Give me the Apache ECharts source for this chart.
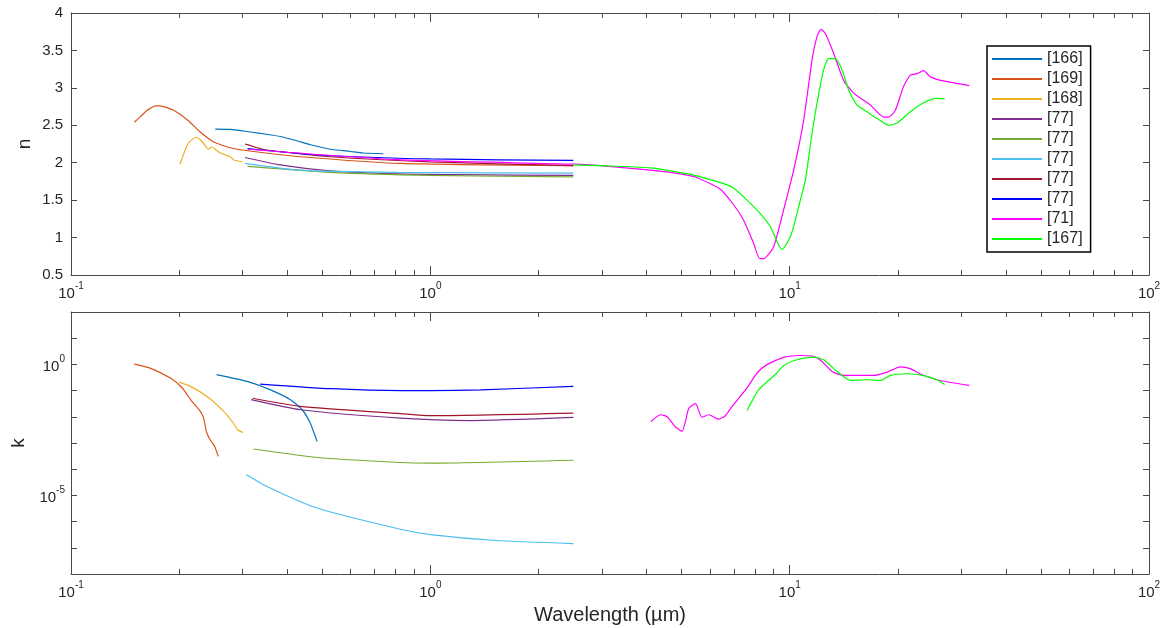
<!DOCTYPE html>
<html>
<head>
<meta charset="utf-8">
<script src="https://cdn.jsdelivr.net/npm/echarts@6/dist/echarts.min.js"></script>
<style>
html,body{margin:0;padding:0;background:#fff;}
#chart{width:1169px;height:628px;}
</style>
</head>
<body>
<div id="chart"></div>
<script>
// ---------- DATA: [wavelength (µm), value] ----------
const legendNames = ['[166]', '[169]', '[168]', '[77]#a', '[77]#b', '[77]#c', '[77]#d', '[77]#e', '[71]', '[167]'];
const seriesColors = ['#0072BD', '#D95319', '#EDB120', '#7E2F8E', '#77AC30', '#4DBEEE', '#A2142F', '#0000FF', '#FF00FF', '#00FF00'];

// refractive index n (top panel)
const n166 = [[0.252,2.45],[0.278,2.445],[0.316,2.41],[0.35,2.38],[0.382,2.35],[0.42,2.30],[0.464,2.24],[0.527,2.18],[0.6,2.15],[0.651,2.13],[0.74,2.12]];
const n169 = [[0.150,2.54],[0.156,2.615],[0.163,2.70],[0.172,2.76],[0.177,2.76],[0.193,2.70],[0.211,2.57],[0.229,2.41],[0.249,2.28],[0.283,2.19],[0.322,2.15],[0.435,2.08],[0.826,1.99],[2.5,1.96]];
const n168 = [[0.201,1.98],[0.212,2.26],[0.223,2.34],[0.232,2.28],[0.241,2.18],[0.246,2.21],[0.260,2.13],[0.278,2.08],[0.283,2.04],[0.300,2.01]];
const n77a = [[0.305,2.07],[0.382,1.97],[0.527,1.89],[0.81,1.85],[1.2,1.84],[2.5,1.83]];
const n77b = [[0.31,1.95],[0.527,1.87],[1.0,1.83],[2.5,1.81]];
const n77c = [[0.305,1.99],[0.43,1.90],[0.81,1.87],[2.5,1.86]];
const n77d = [[0.305,2.25],[0.32,2.22],[0.33,2.20],[0.35,2.17],[0.527,2.08],[1.0,2.01],[2.5,1.96]];
const n77e = [[0.31,2.19],[0.5,2.10],[1.0,2.05],[2.5,2.03]];
const n71 = [[0.31,2.18],[0.81,2.04],[2.5,1.98],[2.97,1.96],[4.10,1.90],[4.96,1.85],[5.53,1.80],[6.41,1.645],[6.99,1.435],[7.44,1.235],[7.94,0.92],[8.25,0.72],[8.47,0.72],[9.03,0.88],[9.62,1.37],[10.26,1.90],[10.94,2.57],[11.54,3.37],[11.91,3.68],[12.22,3.78],[12.56,3.73],[13.26,3.46],[14.13,3.10],[15.07,2.93],[16.77,2.77],[18.27,2.61],[18.86,2.61],[19.68,2.70],[20.75,3.02],[21.67,3.17],[22.62,3.19],[23.6,3.23],[24.6,3.15],[26.3,3.10],[29.2,3.06],[31.6,3.03]];
const n167 = [[2.5,1.97],[2.97,1.96],[4.10,1.93],[5.07,1.86],[5.64,1.81],[6.55,1.72],[6.99,1.66],[7.61,1.50],[8.28,1.32],[8.84,1.145],[9.22,0.945],[9.52,0.84],[10.04,1.01],[10.37,1.235],[10.71,1.50],[11.06,1.77],[11.54,2.39],[11.91,2.79],[12.43,3.24],[12.84,3.39],[13.40,3.39],[13.99,3.24],[14.60,2.97],[15.4,2.77],[16.42,2.68],[17.51,2.59],[18.86,2.50],[19.90,2.53],[21.67,2.68],[23.6,2.80],[25.44,2.86],[27.0,2.855]];

// extinction coefficient k (bottom panel)
const k166 = [[0.254,0.41],[0.309,0.224],[0.359,0.107],[0.408,0.045],[0.44,0.0186],[0.463,0.0058],[0.484,0.00115]];
const k169 = [[0.150,1.02],[0.166,0.72],[0.189,0.30],[0.204,0.126],[0.217,0.039],[0.229,0.0162],[0.234,0.0089],[0.238,0.00275],[0.243,0.00145],[0.251,0.00074],[0.257,0.00031]];
const k168 = [[0.200,0.21],[0.215,0.145],[0.239,0.060],[0.266,0.0162],[0.283,0.0058],[0.291,0.0032],[0.301,0.0025]];
const k77a = [[0.317,0.045],[0.435,0.0186],[0.826,0.0089],[1.29,0.0072],[2.5,0.0095]];
const k77b = [[0.322,5.9e-4],[0.484,2.8e-4],[0.826,1.8e-4],[1.0,1.7e-4],[2.5,2.2e-4]];
const k77c = [[0.308,6.2e-5],[0.351,2.2e-5],[0.484,3.3e-6],[0.826,5.1e-7],[1.0,3.2e-7],[1.53,1.9e-7],[2.5,1.45e-7]];
const k77d = [[0.320,0.051],[0.435,0.025],[0.826,0.0132],[1.0,0.011],[2.5,0.0138]];
const k77e = [[0.336,0.178],[0.53,0.118],[0.83,0.10],[1.0,0.10],[1.38,0.107],[2.5,0.145]];
const k71 = [[4.11,0.0066],[4.37,0.012],[4.56,0.010],[4.81,0.0041],[5.02,0.0028],[5.24,0.021],[5.47,0.032],[5.70,0.0095],[5.95,0.012],[6.35,0.0081],[6.62,0.011],[6.92,0.025],[7.61,0.126],[8.11,0.47],[8.65,0.98],[9.62,1.86],[10.71,2.19],[11.66,2.04],[12.3,1.29],[13.12,0.54],[14.13,0.38],[17.14,0.38],[18.67,0.51],[20.32,0.81],[21.67,0.69],[23.1,0.43],[25.7,0.26],[31.6,0.158]];
const k167 = [[7.61,0.0174],[8.2,0.107],[9.12,0.41],[9.62,0.91],[10.48,1.51],[11.66,1.91],[12.43,1.51],[13.55,0.54],[14.75,0.245],[16.42,0.26],[17.88,0.245],[19.06,0.38],[21.2,0.44],[23.6,0.37],[25.7,0.26],[27.0,0.17]];

const nData = [n166, n169, n168, n77a, n77b, n77c, n77d, n77e, n71, n167];
const kData = [k166, k169, k168, k77a, k77b, k77c, k77d, k77e, k71, k167];

// ---------- CHART ----------
const FONT = 'Liberation Sans, Arial, Helvetica, sans-serif';
const AXC = '#4a4a4a';
const TXT = '#262626';
const powRich = {
  b: {fontSize: 15, fontFamily: FONT, color: TXT, lineHeight: 20, verticalAlign: 'bottom'},
  s: {fontSize: 10, fontFamily: FONT, color: TXT, lineHeight: 20, verticalAlign: 'top'}
};
function powLabel(v) {
  const e = Math.round(Math.log10(v));
  return '{b|10}{s|' + e + '}';
}

function xAxis(grid, pos, labels, name) {
  return {
    type: 'log', logBase: 10, gridIndex: grid, position: pos,
    min: 0.1, max: 100, interval: 1,
    axisLine: {show: true, onZero: false, lineStyle: {color: AXC, width: 1}},
    axisTick: {show: true, inside: true, length: 9, lineStyle: {color: AXC}},
    minorTick: {show: true, splitNumber: 9, length: 5, lineStyle: {color: AXC}},
    splitLine: {show: false}, minorSplitLine: {show: false},
    axisLabel: {show: labels, margin: 6, formatter: powLabel, rich: powRich},
    name: name || '', nameLocation: 'middle', nameGap: 31,
    nameTextStyle: {fontSize: 20, fontFamily: FONT, color: TXT}
  };
}

const option = {
  animation: false,
  backgroundColor: '#fff',
  grid: [
    {left: 71, top: 13, width: 1078, height: 262},
    {left: 71, top: 312, width: 1078, height: 262}
  ],
  xAxis: [
    xAxis(0, 'bottom', true),
    xAxis(0, 'top', false),
    xAxis(1, 'bottom', true, 'Wavelength (\u00b5m)'),
    xAxis(1, 'top', false)
  ],
  yAxis: [
    {type: 'value', gridIndex: 0, position: 'left', min: 0.5, max: 4, interval: 0.5,
     axisLine: {show: true, lineStyle: {color: AXC}},
     axisTick: {show: true, inside: true, length: 6, lineStyle: {color: AXC}},
     splitLine: {show: false},
     axisLabel: {margin: 8, fontSize: 15, fontFamily: FONT, color: TXT},
     name: 'n', nameLocation: 'middle', nameGap: 37, nameRotate: 90, nameMoveOverlap: false,
     nameTextStyle: {fontSize: 19, fontFamily: FONT, color: TXT}},
    {type: 'value', gridIndex: 0, position: 'right', min: 0.5, max: 4, interval: 0.5,
     axisLine: {show: true, lineStyle: {color: AXC}},
     axisTick: {show: true, inside: true, length: 6, lineStyle: {color: AXC}},
     splitLine: {show: false}, axisLabel: {show: false}},
    {type: 'log', logBase: 10, gridIndex: 1, position: 'left', min: 1e-8, max: 100, interval: 1,
     axisLine: {show: true, lineStyle: {color: AXC}},
     axisTick: {show: true, inside: true, length: 6, lineStyle: {color: AXC}},
     splitLine: {show: false},
     axisLabel: {margin: 6, rich: powRich, formatter: function (v) {
       const e = Math.round(Math.log10(v));
       return (e % 5 === 0 && e <= 0) ? powLabel(v) : '';
     }},
     name: 'k', nameLocation: 'middle', nameGap: 43, nameRotate: 90,
     nameTextStyle: {fontSize: 19, fontFamily: FONT, color: TXT}},
    {type: 'log', logBase: 10, gridIndex: 1, position: 'right', min: 1e-8, max: 100, interval: 1,
     axisLine: {show: true, lineStyle: {color: AXC}},
     axisTick: {show: true, inside: true, length: 6, lineStyle: {color: AXC}},
     splitLine: {show: false}, axisLabel: {show: false}}
  ],
  legend: {
    orient: 'vertical', left: 987, top: 46,
    data: legendNames,
    formatter: function (name) { return name.replace(/#.*/, ''); },
    icon: 'rect',
    itemWidth: 50, itemHeight: 2, itemGap: 4,
    padding: [5, 8, 5, 5],
    borderColor: '#000', borderWidth: 1.5,
    backgroundColor: '#fff',
    textStyle: {fontSize: 16, fontFamily: FONT, color: TXT}
  },
  series: []
};

legendNames.forEach(function (nm, i) {
  const base = {
    type: 'line', name: nm, symbol: 'none', showSymbol: false,
    smooth: 0.2,
    lineStyle: {color: seriesColors[i], width: 1.2},
    itemStyle: {color: seriesColors[i]}, z: 2
  };
  option.series.push(Object.assign({}, base, {xAxisIndex: 0, yAxisIndex: 0, data: nData[i]}));
  option.series.push(Object.assign({}, base, {xAxisIndex: 2, yAxisIndex: 2, data: kData[i]}));
});

const chart = echarts.init(document.getElementById('chart'), null, {renderer: 'canvas'});
chart.setOption(option);
</script>
</body>
</html>
